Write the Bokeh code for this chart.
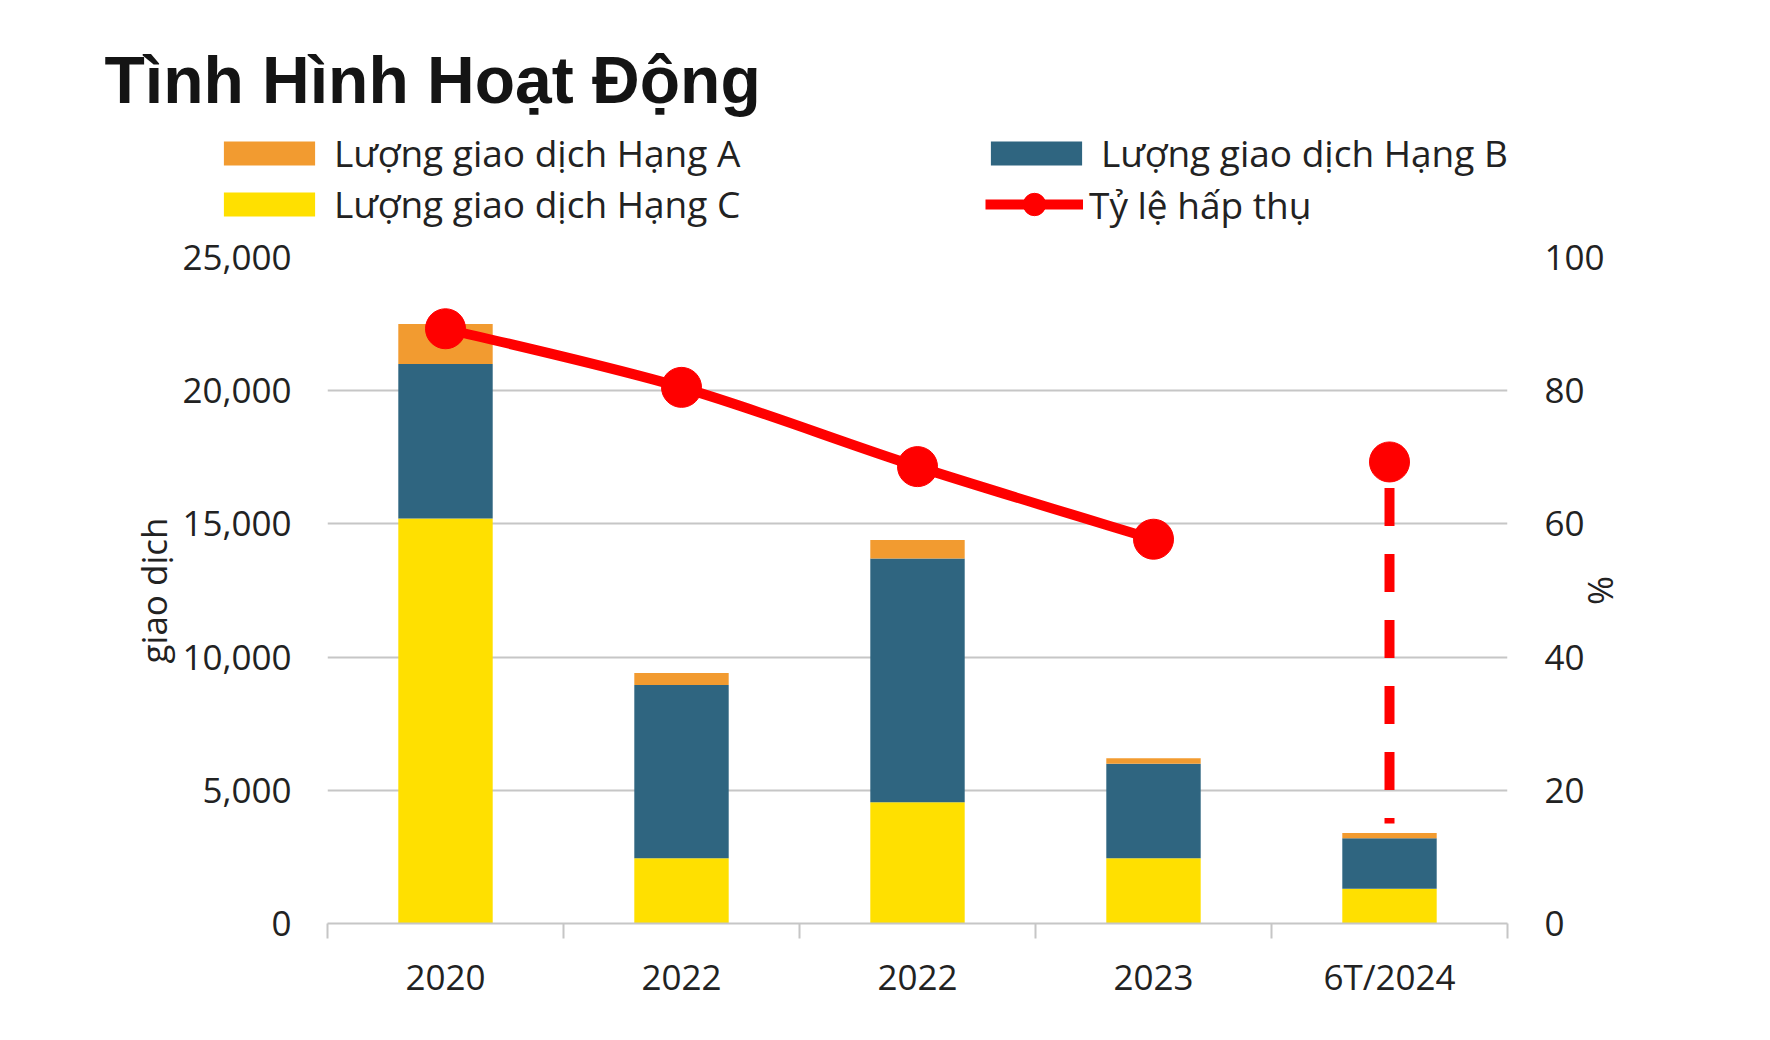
from bokeh.plotting import figure
from bokeh.layouts import column
from bokeh.models import (Range1d, LinearAxis, FixedTicker, NumeralTickFormatter,
                          Legend, LegendItem, Label, ColumnDataSource)
from bokeh.embed import file_html
from bokeh.resources import INLINE

# ---------------- data ----------------
title_text = "Tình Hình Hoạt Động"
categories = ["2020", "2022", "2022", "2023", "6T/2024"]
hang_c = [15200, 2450, 4550, 2450, 1300]   # Lượng giao dịch Hạng C
hang_b = [5800, 6500, 9150, 3550, 1900]    # Lượng giao dịch Hạng B
hang_a = [1500, 450, 700, 200, 200]        # Lượng giao dịch Hạng A
ty_le = [89.3, 80.5, 68.6, 57.7, 69.3]     # Tỷ lệ hấp thụ (%)
drop_line_end = 15.0                       # bottom of the dashed drop line (%)
left_ticks = [0, 5000, 10000, 15000, 20000, 25000]
right_ticks = [0, 20, 40, 60, 80, 100]
label_a = "Lượng giao dịch Hạng A"
label_b = "Lượng giao dịch Hạng B"
label_c = "Lượng giao dịch Hạng C"
label_rate = "Tỷ lệ hấp thụ"
left_title = "giao dịch"
right_title = "%"

# ---------------- style ----------------
ORANGE = "#F29B30"
BLUE = "#2F6580"
YELLOW = "#FFE000"
RED = "#FF0000"
GRID = "#c6c6c6"
TXT = "#222222"
FONT = "Open Sans"

W, HTOT = 1762, 1032
HH = 232                                # header (title + legend) height
FL, FR, FT, FB = 327, 1507, 257, 923    # frame edges in page px
MH = HTOT - HH

nan = float("nan")

# ================= header: title + legend =================
header = figure(width=W, height=HH, x_range=Range1d(0, 1), y_range=Range1d(0, 1),
                title=None, toolbar_location=None, output_backend="svg",
                min_border=0, x_axis_type=None, y_axis_type=None)
header.outline_line_color = None
header.xgrid.visible = False
header.ygrid.visible = False

sw_a = header.vbar(x=[nan], top=[nan], width=0.1, fill_color=ORANGE, line_color=None)
sw_b = header.vbar(x=[nan], top=[nan], width=0.1, fill_color=BLUE, line_color=None)
sw_c = header.vbar(x=[nan], top=[nan], width=0.1, fill_color=YELLOW, line_color=None)
sw_line = header.line(x=[nan, nan], y=[nan, nan], line_color=RED, line_width=10)
sw_dot = header.scatter(x=[nan], y=[nan], size=24, fill_color=RED, line_color=RED)

leg1 = Legend(items=[LegendItem(label=label_a, renderers=[sw_a]),
                     LegendItem(label=label_c, renderers=[sw_c]),
                     LegendItem(label=label_b, renderers=[sw_b])],
              orientation="vertical", nrows=2,
              location=(212, 3),
              glyph_width=114, glyph_height=30, label_standoff=8,
              label_width=645, spacing=0, padding=0, margin=0,
              border_line_color=None, background_fill_alpha=0,
              label_text_font=FONT, label_text_font_size="37px",
              label_text_line_height=1.08,
              label_text_color=TXT)
header.add_layout(leg1, "center")

leg2 = Legend(items=[LegendItem(label=label_rate, renderers=[sw_line, sw_dot])],
              location=(985, 0),
              glyph_width=98, glyph_height=56, label_standoff=6,
              spacing=0, padding=0, margin=0,
              border_line_color=None, background_fill_alpha=0,
              label_text_font=FONT, label_text_font_size="37px",
              label_text_line_height=1.08,
              label_text_color=TXT)
header.add_layout(leg2, "center")

title = Label(x=104, y=HH - 79, x_units="screen", y_units="screen",
              text=title_text, text_font="Liberation Sans",
              text_font_size="66px", text_font_style="bold",
              text_color="#141414", text_baseline="alphabetic", text_align="left")
header.add_layout(title)

# ================= main chart =================
xs = list(range(len(categories)))

p = figure(width=W, height=MH, title=None,
           x_range=Range1d(-0.5, len(categories) - 0.5),
           y_range=Range1d(left_ticks[0], left_ticks[-1]),
           output_backend="svg", toolbar_location=None,
           min_border_left=FL, min_border_right=W - FR,
           min_border_top=FT - HH, min_border_bottom=HTOT - FB)
p.extra_y_ranges = {"pct": Range1d(right_ticks[0], right_ticks[-1])}
p.outline_line_color = None

# keep the header's frame independent from the chart's frame
for fig in (header, p):
    try:
        fig.frame_align = False
    except Exception:
        pass

# bars
src = ColumnDataSource(dict(x=xs, c=hang_c, b=hang_b, a=hang_a))
bars = p.vbar_stack(["c", "b", "a"], x="x", width=0.4, source=src,
                    fill_color=[YELLOW, BLUE, ORANGE], line_color=None)

# smoothed rate line (bezier segments through the data points)
n_conn = 4
px = xs[:n_conn]
py = ty_le[:n_conn]
bx0, by0, bx1, by1, bcx0, bcy0, bcx1, bcy1 = [], [], [], [], [], [], [], []
for i in range(n_conn - 1):
    pm = max(i - 1, 0)
    pn = min(i + 2, n_conn - 1)
    bx0.append(px[i]); by0.append(py[i])
    bx1.append(px[i + 1]); by1.append(py[i + 1])
    bcx0.append(px[i] + (px[i + 1] - px[pm]) / 6.0)
    bcy0.append(py[i] + (py[i + 1] - py[pm]) / 6.0)
    bcx1.append(px[i + 1] - (px[pn] - px[i]) / 6.0)
    bcy1.append(py[i + 1] - (py[pn] - py[i]) / 6.0)
p.bezier(x0=bx0, y0=by0, x1=bx1, y1=by1, cx0=bcx0, cy0=bcy0, cx1=bcx1, cy1=bcy1,
         line_color=RED, line_width=10, line_cap="round", y_range_name="pct")

# dashed drop line under the last point
p.segment(x0=[xs[-1]], y0=[ty_le[-1]], x1=[xs[-1]], y1=[drop_line_end],
          line_color=RED, line_width=10, line_dash="38 28", line_dash_offset=40,
          y_range_name="pct")

p.scatter(x=xs, y=ty_le, size=40, fill_color=RED, line_color=RED,
          y_range_name="pct")

# axes
lax = p.yaxis[0]
lax.ticker = FixedTicker(ticks=left_ticks)
lax.formatter = NumeralTickFormatter(format="0,0")
lax.axis_line_color = None
lax.major_tick_line_color = None
lax.minor_tick_line_color = None
lax.major_tick_out = 0
lax.major_tick_in = 0
lax.major_label_standoff = 36
lax.major_label_text_font = FONT
lax.major_label_text_font_size = "35px"
lax.major_label_text_color = TXT
lax.axis_label = left_title
lax.axis_label_text_font = FONT
lax.axis_label_text_font_size = "35px"
lax.axis_label_text_font_style = "normal"
lax.axis_label_text_color = TXT
lax.axis_label_standoff = 2

rax = LinearAxis(y_range_name="pct", ticker=FixedTicker(ticks=right_ticks))
rax.axis_line_color = None
rax.major_tick_line_color = None
rax.minor_tick_line_color = None
rax.major_tick_out = 0
rax.major_tick_in = 0
rax.major_label_standoff = 37
rax.major_label_text_font = FONT
rax.major_label_text_font_size = "35px"
rax.major_label_text_color = TXT
rax.axis_label = right_title
rax.axis_label_text_font = FONT
rax.axis_label_text_font_size = "35px"
rax.axis_label_text_font_style = "normal"
rax.axis_label_text_color = TXT
rax.axis_label_standoff = -30
p.add_layout(rax, "right")

xax = p.xaxis[0]
xax.ticker = FixedTicker(ticks=xs, minor_ticks=[i - 0.5 for i in range(len(xs) + 1)])
xax.major_label_overrides = {i: c for i, c in enumerate(categories)}
xax.axis_line_color = GRID
xax.axis_line_width = 2
xax.major_tick_line_color = None
xax.major_tick_out = 0
xax.major_tick_in = 0
xax.minor_tick_line_color = GRID
xax.minor_tick_line_width = 2
xax.minor_tick_out = 15
xax.minor_tick_in = 0
xax.major_label_standoff = 14
xax.major_label_text_font = FONT
xax.major_label_text_font_size = "35px"
xax.major_label_text_color = TXT

p.xgrid.visible = False
p.ygrid.ticker = FixedTicker(ticks=left_ticks[1:])
p.ygrid.grid_line_color = GRID
p.ygrid.grid_line_width = 2

layout = column(header, p, spacing=0)
open("out.html", "w").write(file_html(layout, INLINE))
